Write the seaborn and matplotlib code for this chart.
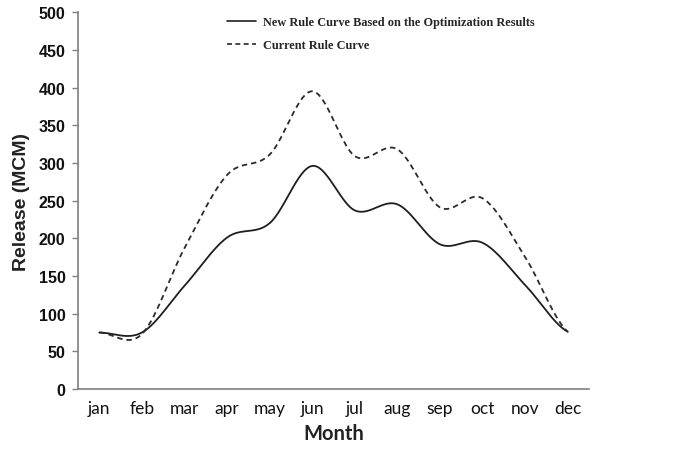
import numpy as np
import pandas as pd
import matplotlib
matplotlib.use("Agg")
import matplotlib.pyplot as plt
import seaborn as sns

months = ["jan", "feb", "mar", "apr", "may", "jun", "jul", "aug", "sep", "oct", "nov", "dec"]
new_rule = [75, 75, 137, 201, 220, 296, 237, 245, 192, 194, 138, 76]
current_rule = [75, 73, 187, 284, 311, 395, 309, 318, 241, 253, 175, 76]
series_names = ["New Rule Curve Based on the Optimization Results", "Current Rule Curve"]
yticks = [0, 50, 100, 150, 200, 250, 300, 350, 400, 450, 500]


def smooth(y, n=30):
    """Catmull-Rom style smoothing (like a spreadsheet 'smoothed line'), drawing only."""
    y = np.asarray(y, float)
    x = np.arange(len(y), dtype=float)
    xs, ys = [], []
    for i in range(len(y) - 1):
        p0 = y[i - 1] if i > 0 else y[i]
        p1, p2 = y[i], y[i + 1]
        p3 = y[i + 2] if i + 2 < len(y) else y[i + 1]
        t = np.linspace(0, 1, n, endpoint=(i == len(y) - 2))
        m1 = (p2 - p0) / 2
        m2 = (p3 - p1) / 2
        h00 = 2 * t**3 - 3 * t**2 + 1
        h10 = t**3 - 2 * t**2 + t
        h01 = -2 * t**3 + 3 * t**2
        h11 = t**3 - t**2
        ys.append(h00 * p1 + h10 * m1 + h01 * p2 + h11 * m2)
        xs.append(x[i] + t)
    return np.concatenate(xs), np.concatenate(ys)


sns.set_style("white")
plt.rcParams["font.family"] = ["Liberation Sans", "DejaVu Sans"]

fig = plt.figure(figsize=(6.76, 4.52), dpi=100)
ax = fig.add_axes([0.1154, 0.137, 0.756, 0.834])

rows = []
for name, vals in zip(series_names, [new_rule, current_rule]):
    xs, ys = smooth(vals)
    rows.append(pd.DataFrame({"x": xs, "y": ys, "series": name}))
df = pd.concat(rows, ignore_index=True)

sns.lineplot(data=df, x="x", y="y", hue="series", style="series",
             palette=["#1e1e1e", "#2a2a2a"], dashes=[(None, None), (3.0, 2.2)],
             linewidth=1.3, ax=ax, legend=False, sort=False, estimator=None)

ax.set_xlim(-0.5, 11.5)
ax.set_ylim(0, 500)
ax.set_yticks(yticks)
ax.set_yticklabels([str(v) for v in yticks], fontsize=11.5, fontweight="bold", color="#111111")
ax.set_xticks(range(len(months)))
ax.set_xticklabels(months, fontsize=12.5, color="#111111", family=["Lato", "DejaVu Sans"])
ax.set_xticks(np.arange(-0.5, 12, 1), minor=True)
ax.tick_params(axis="x", which="major", length=0, pad=8)
ax.tick_params(axis="x", which="minor", length=4, width=1, color="#808080", direction="out")
ax.tick_params(axis="y", which="major", length=4, width=1, color="#808080", direction="out", left=True, pad=5)

for s in ["top", "right"]:
    ax.spines[s].set_visible(False)
for s in ["left", "bottom"]:
    ax.spines[s].set_color("#808080")
    ax.spines[s].set_linewidth(1.2)

ax.set_xlabel("Month", fontsize=14.5, fontweight="bold", color="#222222", labelpad=5,
              family=["Lato", "DejaVu Sans"])
ax.set_ylabel("Release (MCM)", fontsize=14, fontweight="bold", color="#222222", labelpad=6)

handles = [
    plt.Line2D([], [], color="#1e1e1e", lw=1.2, ls="-"),
    plt.Line2D([], [], color="#2a2a2a", lw=1.2, ls=(0, (3, 2))),
]
leg = fig.legend(handles, series_names, loc="upper left",
                 bbox_to_anchor=(221 / 676, 1 - 11 / 452), frameon=False,
                 prop={"family": "Liberation Serif", "weight": "bold", "size": 8.8},
                 handlelength=2.4, handletextpad=0.5, labelspacing=0.9, borderpad=0)

fig.savefig("out.png", dpi=100)
